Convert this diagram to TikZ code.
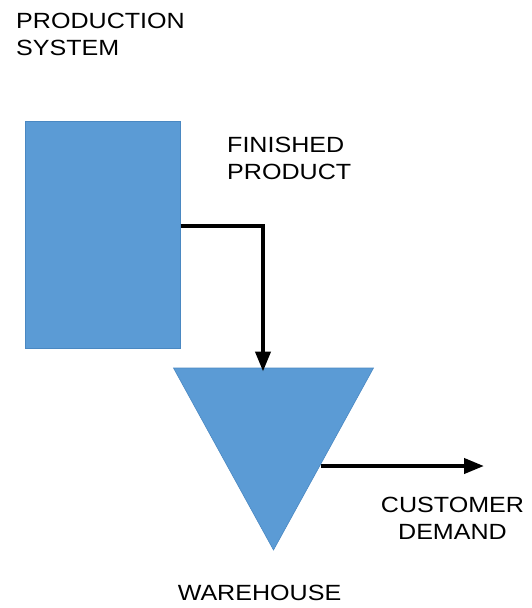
\documentclass[tikz,border=0pt]{standalone}
\usepackage{fontspec}
\setmainfont{Liberation Sans}
\usetikzlibrary{arrows.meta}
\definecolor{boxblue}{HTML}{5B9BD5}
\definecolor{edgeblue}{HTML}{4A88C2}
\newcommand\hstr[1]{\scalebox{1.14}[1]{#1}}
\begin{document}
\begin{tikzpicture}[x=1pt,y=-1pt,
  lbl/.style={inner sep=0pt, font=\fontsize{22}{27}\selectfont},
  flow/.style={line width=4pt, -{Triangle[length=20pt,width=15pt]}},
  shapefill/.style={fill=boxblue, draw=edgeblue, line width=0.6pt}]
\useasboundingbox (0,0) rectangle (531,608);
% production system box
\node[shapefill, minimum width=155pt, minimum height=227pt, inner sep=0pt, anchor=north west] (prod) at (25,121) {};
% warehouse triangle
\coordinate (tl) at (173.5,368);
\coordinate (tr) at (373.5,368);
\coordinate (tb) at (273.5,550);
\draw[shapefill] (tl) -- (tr) -- (tb) -- cycle;
% connectors
\coordinate (bend) at (263,226);
\coordinate (whin) at (263,371.5);
\coordinate (whout) at (320.5,466);
\coordinate (demand) at (484,466);
\draw[flow, line join=miter] (prod.east |- bend) -- (bend) -- (whin);
\draw[flow] (whout) -- (demand);
% labels
\node[lbl, anchor=north west, align=left] (lprod) at (16,12.5) {\hstr{PRODUCTION}\\\hstr{SYSTEM}};
\node[lbl, anchor=north west, align=left] (lfin) at (227,136.5) {\hstr{FINISHED}\\\hstr{PRODUCT}};
\node[lbl, anchor=north, align=center] (lcust) at (452.5,497) {\hstr{CUSTOMER}\\\hstr{DEMAND}};
\node[lbl, anchor=north] (lware) at (259.5,585) {\hstr{WAREHOUSE}};
\end{tikzpicture}
\end{document}
